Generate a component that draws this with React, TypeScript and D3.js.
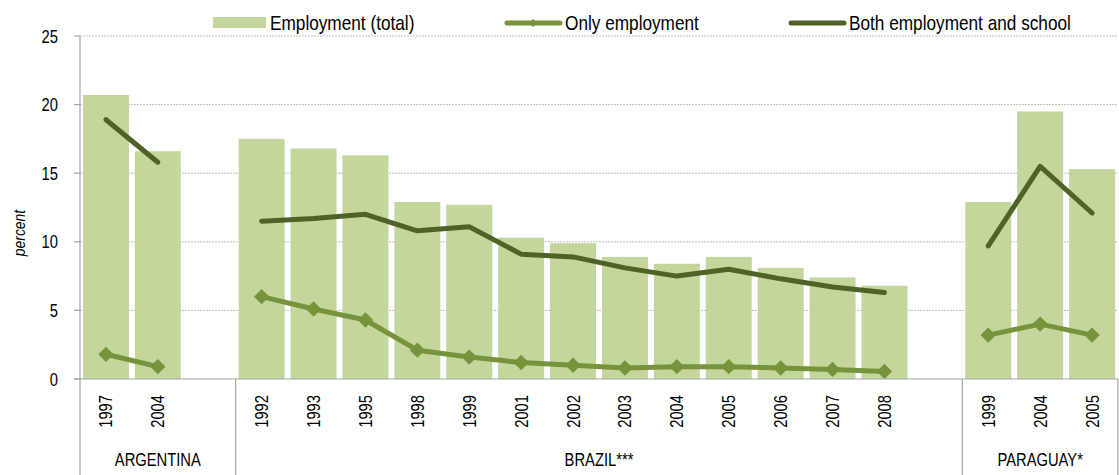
import React from 'react';
import * as d3 from 'd3';

// categories
const countries = ['ARGENTINA', 'BRAZIL***', 'PARAGUAY*'];
const argYears = ['1997', '2004'];
const braYears = ['1992', '1993', '1995', '1998', '1999', '2001', '2002', '2003', '2004', '2005', '2006', '2007', '2008'];
const parYears = ['1999', '2004', '2005'];

// series values (percent)
const argTotal = [20.7, 16.6];
const braTotal = [17.5, 16.8, 16.3, 12.9, 12.7, 10.3, 9.9, 8.9, 8.4, 8.9, 8.1, 7.4, 6.8];
const parTotal = [12.9, 19.5, 15.3];

const argOnly = [1.8, 0.9];
const braOnly = [6.0, 5.1, 4.3, 2.1, 1.6, 1.2, 1.0, 0.8, 0.9, 0.9, 0.8, 0.7, 0.55];
const parOnly = [3.2, 4.0, 3.2];

const argBoth = [18.9, 15.8];
const braBoth = [11.5, 11.7, 12.0, 10.8, 11.1, 9.1, 8.9, 8.1, 7.5, 8.0, 7.3, 6.7, 6.3];
const parBoth = [9.7, 15.5, 12.1];

const yTicks = [0, 5, 10, 15, 20, 25];

const seriesNames = ['Employment (total)', 'Only employment', 'Both employment and school'];

const FONT = '"Liberation Sans", Arial, sans-serif';
const NARROW = 0.82; // squeeze to look like Arial Narrow
const BAR = '#C3D69B';
const ONLY = '#77933C';
const BOTH = '#4F6228';

type Slot = { key: string; group: number; year: string; total: number; only: number; both: number };

// build the slot list, with one empty slot between countries
const groups = [
  { years: argYears, total: argTotal, only: argOnly, both: argBoth },
  { years: braYears, total: braTotal, only: braOnly, both: braBoth },
  { years: parYears, total: parTotal, only: parOnly, both: parBoth },
];
const slotKeys: string[] = [];
const slots: Slot[] = [];
groups.forEach((g, gi) => {
  if (gi > 0) slotKeys.push('gap' + gi);
  g.years.forEach((yr, i) => {
    const key = gi + '-' + yr;
    slotKeys.push(key);
    slots.push({ key, group: gi, year: yr, total: g.total[i], only: g.only[i], both: g.both[i] });
  });
});

// narrow text helper
const NText = ({ x, y, rotate = 0, anchor = 'start', size, italic = false, children }: any) => (
  <text
    transform={`translate(${x},${y}) rotate(${rotate}) scale(${NARROW},1)`}
    textAnchor={anchor}
    fontSize={size}
    fontStyle={italic ? 'italic' : 'normal'}
    fill="#000"
  >
    {children}
  </text>
);

const App = () => {
  const width = 1119;
  const height = 475;
  const left = 80;
  const right = 1118;
  const top = 36;
  const bottom = 379;

  const x = d3.scaleBand<string>()
    .domain(slotKeys)
    .range([left, right])
    .paddingInner(0.114)
    .paddingOuter(0.057);

  const y = d3.scaleLinear().domain([0, 25]).range([bottom, top]);

  const cx = (k: string) => (x(k) as number) + x.bandwidth() / 2;

  const onlyLine = d3.line<Slot>().x(d => cx(d.key)).y(d => y(d.only));
  const onlyPaths = countries.map((_, gi) => onlyLine(slots.filter(s => s.group === gi)) as string);
  const bothLine = d3.line<Slot>().x(d => cx(d.key)).y(d => y(d.both));
  const bothPaths = countries.map((_, gi) => bothLine(slots.filter(s => s.group === gi)) as string);

  const diamond = d3.symbol().type(d3.symbolDiamond2).size(150)() as string;
  const smallDiamond = d3.symbol().type(d3.symbolDiamond2).size(40)() as string;

  // group boundaries
  const step = x.step();
  const pad = (step - x.bandwidth()) / 2;
  const groupEnds = countries.map((_, gi) => {
    const keys = slots.filter(s => s.group === gi).map(s => s.key);
    return (x(keys[keys.length - 1]) as number) + x.bandwidth() + pad;
  });
  // the boundary between countries sits at the end of the gap slot
  const sepX = [left, groupEnds[0] + step, groupEnds[1] + step, right];
  const groupCenters = [0, 1, 2].map(i => (sepX[i] + sepX[i + 1]) / 2);

  return (
    <svg width={width} height={height} style={{ position: 'absolute', left: 0, top: 0, background: '#fff' }} fontFamily={FONT}>
      {/* gridlines */}
      {yTicks.filter(t => t > 0).map(t => (
        <line key={'g' + t} x1={left} x2={right} y1={y(t)} y2={y(t)} stroke="#BFBFBF" strokeWidth={1} strokeDasharray="2,1" />
      ))}

      {/* bars */}
      {slots.map(s => (
        <rect key={'b' + s.key} x={x(s.key)} y={y(s.total)} width={x.bandwidth()} height={bottom - y(s.total)} fill={BAR} />
      ))}

      {/* lines */}
      {bothPaths.map((p, i) => (
        <path key={'both' + i} d={p} fill="none" stroke={BOTH} strokeWidth={5} strokeLinecap="round" strokeLinejoin="round" />
      ))}
      {onlyPaths.map((p, i) => (
        <path key={'only' + i} d={p} fill="none" stroke={ONLY} strokeWidth={5} strokeLinecap="round" strokeLinejoin="round" />
      ))}
      {slots.map(s => (
        <path key={'m' + s.key} d={diamond} transform={`translate(${cx(s.key)},${y(s.only)})`} fill={ONLY} />
      ))}

      {/* y axis */}
      <line x1={left} x2={left} y1={top} y2={height} stroke="#A6A6A6" strokeWidth={1.2} />
      {yTicks.map(t => (
        <g key={'t' + t}>
          <line x1={left - 6} x2={left} y1={y(t)} y2={y(t)} stroke="#A6A6A6" strokeWidth={1.2} />
          <NText x={58} y={y(t) + 6.5} anchor="end" size={18}>{t}</NText>
        </g>
      ))}
      <NText x={25} y={233} rotate={-90} anchor="middle" size={17} italic>percent</NText>

      {/* x axis */}
      <line x1={left - 6} x2={right} y1={bottom} y2={bottom} stroke="#A6A6A6" strokeWidth={1.2} />
      {sepX.slice(1).map((sx, i) => (
        <line key={'s' + i} x1={sx} x2={sx} y1={bottom} y2={height} stroke="#A6A6A6" strokeWidth={1.2} />
      ))}
      {slots.map(s => (
        <NText key={'yl' + s.key} x={cx(s.key) + 6.5} y={395} rotate={-90} anchor="end" size={18}>{s.year}</NText>
      ))}
      {countries.map((c, i) => (
        <NText key={'c' + c} x={groupCenters[i]} y={466} anchor="middle" size={18}>{c}</NText>
      ))}

      {/* legend */}
      <rect x={120} y={0} width={998} height={33} fill="#fff" />
      <rect x={213} y={17} width={53} height={11} fill={BAR} />
      <NText x={270} y={30} size={21}>{seriesNames[0]}</NText>
      <line x1={507} x2={560} y1={23} y2={23} stroke={ONLY} strokeWidth={5} strokeLinecap="round" />
      <path d={smallDiamond} transform="translate(533,23)" fill={ONLY} />
      <NText x={565} y={30} size={21}>{seriesNames[1]}</NText>
      <line x1={791} x2={844} y1={23} y2={23} stroke={BOTH} strokeWidth={5} strokeLinecap="round" />
      <NText x={849} y={30} size={21}>{seriesNames[2]}</NText>
    </svg>
  );
};

export default App;
